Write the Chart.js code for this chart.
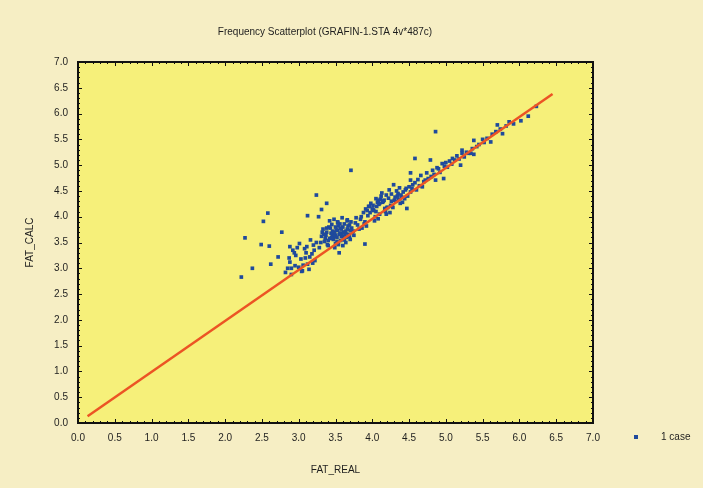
<!DOCTYPE html>
<html>
<head>
<meta charset="utf-8">
<script src="https://cdn.jsdelivr.net/npm/chart.js@4/dist/chart.umd.min.js"></script>
<style>
  html, body { margin: 0; padding: 0; background: #f6eec4; }
  #wrap { width: 703px; height: 488px; }
</style>
</head>
<body>
<div id="wrap"><canvas id="chart" width="703" height="488"></canvas></div>
<script>
// Chart texts
const chartTitle = 'Frequency Scatterplot (GRAFIN-1.STA 4v*487c)';
const xTitle = 'FAT_REAL';
const yTitle = 'FAT_CALC';
const legendText = '1 case';

const fatReal = [
  2.22, 2.37, 2.27, 2.52, 2.58, 2.49, 2.60, 2.77, 2.72, 2.88,
  2.90, 3.24, 3.38, 3.31, 3.12, 3.27, 3.71, 3.90, 4.86, 2.62,
  2.82, 3.10, 2.95, 3.20, 2.88, 3.05, 3.15, 2.92, 3.00, 3.22,
  2.85, 3.12, 2.98, 3.18, 3.03, 2.90, 3.24, 3.08, 2.96, 3.14,
  3.01, 3.19, 2.87, 3.11, 3.06, 2.94, 3.21, 3.16, 3.04, 3.09,
  3.28, 3.45, 3.62, 3.38, 3.55, 3.72, 3.31, 3.50, 3.66, 3.42,
  3.58, 3.35, 3.48, 3.69, 3.53, 3.40, 3.77, 3.60, 3.33, 3.46,
  3.64, 3.52, 3.37, 3.56, 3.74, 3.43, 3.61, 3.49, 3.68, 3.30,
  3.54, 3.47, 3.66, 3.39, 3.58, 3.71, 3.44, 3.63, 3.51, 3.80,
  3.36, 3.59, 3.49, 3.73, 3.55, 3.65, 3.41, 3.62, 3.52, 3.70,
  3.46, 3.57, 3.67, 3.34, 3.53, 3.75, 3.44, 3.60, 3.50, 3.64,
  3.38, 3.56, 3.48, 3.70, 3.61, 3.42, 3.54, 3.66, 3.58, 3.78,
  3.32, 3.50, 3.63, 3.45, 3.57, 3.69, 3.40, 3.53, 3.82, 3.60,
  3.84, 4.02, 3.92, 4.15, 3.88, 4.08, 3.96, 4.20, 3.86, 4.05,
  4.10, 3.94, 4.25, 3.90, 4.12, 4.00, 4.30, 3.98, 4.18, 4.06,
  4.22, 3.85, 4.35, 4.03, 4.28, 4.14, 3.93, 4.40, 4.09, 4.24,
  4.32, 4.01, 4.45, 4.17, 3.89, 4.26, 4.11, 4.38, 4.04, 4.48,
  4.19, 4.42, 3.97, 4.33, 4.07, 4.27, 4.50, 4.13, 4.36, 3.91,
  4.44, 4.16, 4.29, 4.01, 4.39, 4.21, 4.47, 4.10, 4.34, 4.23,
  4.46, 4.31, 4.08, 4.41, 3.95, 4.26, 4.52, 4.19, 4.37, 4.05,
  4.52, 4.52, 4.54, 4.55, 4.58, 4.58, 4.60, 4.62, 4.64, 4.66,
  4.68, 4.70, 4.72, 4.74, 4.76, 4.79, 4.80, 4.82, 4.84, 4.86,
  4.88, 4.90, 4.92, 4.95, 4.97, 4.98, 5.00, 5.02, 5.05, 5.08,
  5.09, 5.12, 5.15, 5.18, 5.20, 5.22, 5.22, 5.25, 5.28, 5.31,
  5.34, 5.36, 5.38, 5.38, 5.42, 5.45, 5.50, 5.52, 5.56, 5.61,
  5.63, 5.68, 5.70, 5.74, 5.77, 5.82, 5.86, 5.92, 6.02, 6.12,
  6.23
];
const fatCalc = [
  2.83, 3.00, 3.59, 3.91, 4.07, 3.46, 3.43, 3.70, 3.22, 3.42,
  3.00, 4.42, 4.26, 4.14, 4.02, 4.00, 4.90, 3.47, 5.65, 3.08,
  2.92, 3.30, 3.05, 3.45, 3.12, 2.95, 3.22, 3.35, 3.02, 3.15,
  3.00, 3.08, 3.40, 3.28, 3.18, 2.88, 3.50, 3.38, 3.25, 2.98,
  3.48, 3.10, 3.20, 3.42, 3.06, 3.30, 3.35, 3.55, 2.94, 3.20,
  3.40, 3.85, 3.55, 3.70, 3.30, 3.78, 3.62, 3.48, 3.92, 3.58,
  3.68, 3.52, 3.95, 3.62, 3.74, 3.44, 3.88, 3.80, 3.76, 3.66,
  3.50, 3.60, 3.64, 3.86, 3.72, 3.78, 3.58, 3.70, 3.66, 3.50,
  3.82, 3.56, 3.76, 3.46, 3.62, 3.90, 3.68, 3.70, 3.74, 3.84,
  3.58, 3.98, 3.40, 3.70, 3.66, 3.60, 3.80, 3.86, 3.52, 3.74,
  3.72, 3.54, 3.82, 3.66, 3.90, 3.64, 3.58, 3.62, 3.80, 3.72,
  3.78, 3.68, 3.62, 3.56, 3.70, 3.92, 3.46, 3.94, 3.76, 3.98,
  3.70, 3.64, 3.66, 3.60, 3.78, 3.84, 3.54, 3.88, 3.76, 3.44,
  3.95, 4.12, 3.82, 4.30, 4.08, 3.96, 4.20, 4.18, 3.78, 4.35,
  4.05, 4.02, 4.22, 3.90, 4.40, 4.15, 4.32, 4.26, 4.10, 4.20,
  4.36, 4.00, 4.45, 3.92, 4.18, 4.28, 4.12, 4.38, 4.24, 4.08,
  4.30, 4.22, 4.52, 4.16, 3.86, 4.44, 4.34, 4.26, 4.00, 4.40,
  4.05, 4.48, 4.08, 4.50, 4.28, 4.20, 4.58, 4.46, 4.34, 4.15,
  4.35, 4.32, 4.62, 4.14, 4.42, 4.18, 4.16, 4.26, 4.40, 4.52,
  4.55, 4.38, 4.32, 4.28, 4.20, 4.30, 4.48, 4.42, 4.56, 4.10,
  4.85, 4.71, 4.55, 4.62, 5.13, 4.66, 4.52, 4.72, 4.60, 4.80,
  4.58, 4.68, 4.71, 4.85, 4.74, 5.10, 4.78, 4.90, 4.82, 4.71,
  4.95, 4.93, 4.86, 5.03, 4.74, 4.98, 5.05, 4.96, 5.08, 5.02,
  5.13, 5.10, 5.18, 5.12, 5.00, 5.29, 5.23, 5.16, 5.25, 5.23,
  5.23, 5.32, 5.48, 5.21, 5.36, 5.40, 5.50, 5.44, 5.52, 5.45,
  5.60, 5.65, 5.78, 5.70, 5.61, 5.76, 5.84, 5.80, 5.86, 5.95,
  6.14
];

// Fitted line ends
const lineReal = [0.13, 6.45];
const lineCalc = [0.13, 6.38];

// Axis ticks
const tickValues = [0, 0.5, 1, 1.5, 2, 2.5, 3, 3.5, 4, 4.5, 5, 5.5, 6, 6.5, 7];
const tickLabels = tickValues.map(v => v.toFixed(1));

const textFont = "'Liberation Sans', Arial, sans-serif";
const inkColor = '#1e1e1e';

let casePoints = fatReal.map((x, i) => ({x: x, y: fatCalc[i]}));
let linePoints = lineReal.map((x, i) => ({x: x, y: lineCalc[i]}));

// Paints backgrounds, frame, inner tick marks, title and legend
const framePlugin = {
    id: 'frame',
    beforeDraw(chart) {
        let ctx = chart.ctx;
        let a = chart.chartArea;
        ctx.save();
        ctx.fillStyle = '#f6eec4';
        ctx.fillRect(0, 0, chart.width, chart.height);
        ctx.fillStyle = '#f6f07a';
        ctx.fillRect(a.left, a.top, a.right - a.left, a.bottom - a.top);
        ctx.restore();
    },
    afterDatasetsDraw(chart) {
        let ctx = chart.ctx;
        let a = chart.chartArea;
        let xs = chart.scales.x;
        let ys = chart.scales.y;
        ctx.save();
        ctx.strokeStyle = '#111';
        ctx.lineWidth = 1;
        // minor and major ticks pointing inside
        for (let i = 0; i <= 70; i++) {
            let len = (i % 5 === 0) ? 4 : 2;
            let px = Math.round(xs.getPixelForValue(i / 10)) + 0.5;
            let py = Math.round(ys.getPixelForValue(i / 10)) + 0.5;
            ctx.beginPath();
            ctx.moveTo(px, a.bottom); ctx.lineTo(px, a.bottom - len);
            ctx.moveTo(px, a.top); ctx.lineTo(px, a.top + len);
            ctx.moveTo(a.left, py); ctx.lineTo(a.left + len, py);
            ctx.moveTo(a.right, py); ctx.lineTo(a.right - len, py);
            ctx.stroke();
        }
        ctx.lineWidth = 2;
        ctx.strokeRect(a.left, a.top, a.right - a.left, a.bottom - a.top);

        // title
        ctx.fillStyle = inkColor;
        ctx.font = '10px ' + textFont;
        ctx.textAlign = 'center';
        ctx.textBaseline = 'middle';
        ctx.fillText(chartTitle, 325, 32);

        // legend
        let ly = ys.bottom + 14;
        ctx.fillStyle = '#1f4a9c';
        ctx.fillRect(634, ly - 2, 4, 4);
        ctx.fillStyle = inkColor;
        ctx.textAlign = 'left';
        ctx.fillText(legendText, 661, ly);
        ctx.restore();
    }
};

const ctx = document.getElementById('chart');
new Chart(ctx, {
    type: 'scatter',
    data: {
        datasets: [
            {
                label: legendText,
                data: casePoints,
                pointStyle: 'rect',
                pointRadius: 2.6,
                pointBorderWidth: 0,
                backgroundColor: '#1f4a9c',
                borderColor: '#1f4a9c',
                order: 2
            },
            {
                label: 'fit',
                type: 'line',
                data: linePoints,
                borderColor: '#ec5424',
                borderWidth: 2.5,
                pointRadius: 0,
                fill: false,
                order: 1
            }
        ]
    },
    options: {
        responsive: false,
        animation: false,
        layout: {
            padding: {top: 62, right: 110, left: 0, bottom: 0}
        },
        plugins: {
            legend: {display: false},
            title: {display: false},
            tooltip: {enabled: false}
        },
        scales: {
            x: {
                type: 'linear',
                min: 0,
                max: 7,
                afterFit: scale => { scale.height = 65; },
                afterBuildTicks: scale => { scale.ticks = tickValues.map(v => ({value: v})); },
                grid: {display: false, drawTicks: false},
                border: {display: false},
                ticks: {
                    padding: 9,
                    color: inkColor,
                    font: {family: textFont, size: 10},
                    callback: (v, i) => tickLabels[i]
                },
                title: {
                    display: true,
                    text: xTitle,
                    color: inkColor,
                    font: {family: textFont, size: 10},
                    padding: {top: 0, bottom: 12}
                }
            },
            y: {
                type: 'linear',
                min: 0,
                max: 7,
                afterFit: scale => { scale.width = 78; },
                afterBuildTicks: scale => { scale.ticks = tickValues.map(v => ({value: v})); },
                grid: {display: false, drawTicks: false},
                border: {display: false},
                ticks: {
                    padding: 10,
                    color: inkColor,
                    font: {family: textFont, size: 10},
                    callback: (v, i) => tickLabels[i]
                },
                title: {
                    display: true,
                    text: yTitle,
                    color: inkColor,
                    font: {family: textFont, size: 10},
                    padding: {top: 24, bottom: 0}
                }
            }
        }
    },
    plugins: [framePlugin]
});
</script>
</body>
</html>
